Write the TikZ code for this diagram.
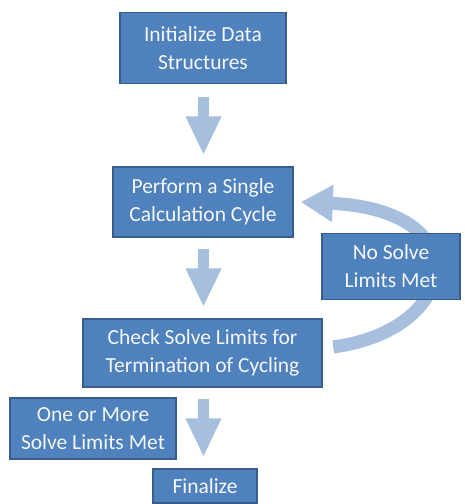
\documentclass[tikz,border=0pt]{standalone}
\usepackage{fontspec}
\setmainfont{Carlito}
\usetikzlibrary{arrows.meta,calc}
\definecolor{boxfill}{HTML}{4F81BD}
\definecolor{boxline}{HTML}{385D8A}
\definecolor{arrfill}{HTML}{A7BFDE}
\definecolor{txt}{HTML}{F4F7FC}
\begin{document}
\begin{tikzpicture}[x=1pt,y=-1pt,
  stepbox/.style={draw=boxline,line width=1.5pt,fill=boxfill,text=txt,align=center,
    inner sep=0pt,font=\fontsize{21.5}{28}\selectfont},
  blockarr/.style={draw=arrfill,line width=11pt,-{Triangle[width=33pt,length=39pt]}},
  curvearr/.style={draw=arrfill,line width=13pt,-{Triangle[width=35pt,length=32pt]}}]
\useasboundingbox (0,0) rectangle (464,504);
\fill[white] (0,0) rectangle (464,504);
% nodes
\node[stepbox,minimum width=166pt,minimum height=71pt] (b1) at (203,48) {Initialize Data\\Structures};
\node[stepbox,minimum width=180pt,minimum height=70pt] (b2) at (203,202) {Perform a Single\\Calculation Cycle};
\node[stepbox,minimum width=239pt,minimum height=68pt] (b3) at (202.5,353) {Check Solve Limits for\\Termination of Cycling};
\node[stepbox,minimum width=166pt,minimum height=61pt] (b4) at (93,428.5) {One or More\\Solve Limits Met};
\node[stepbox,minimum width=104pt,minimum height=34pt] (b5) at (205,486) {Finalize};
% curved loop arrow (behind the label box)
\draw[curvearr] ($(b3.east)+(10.5,-6)$) .. controls (460,330) and (480,210) .. ($(b2.east)+(7,0)$);
\node[stepbox,minimum width=138pt,minimum height=66pt] (ns) at (391,266.5) {No Solve\\Limits Met};
% straight arrows
\draw[blockarr] ($(b1.south)+(0.5,12.5)$) -- ($(b2.north)+(0.5,-11)$);
\draw[blockarr] ($(b2.south)+(0.5,11)$) -- ($(b3.north)+(1,-11)$);
\draw[blockarr] ($(b3.south)+(1,11)$) -- ($(b5.north)+(-1.5,-11)$);
\end{tikzpicture}
\end{document}
